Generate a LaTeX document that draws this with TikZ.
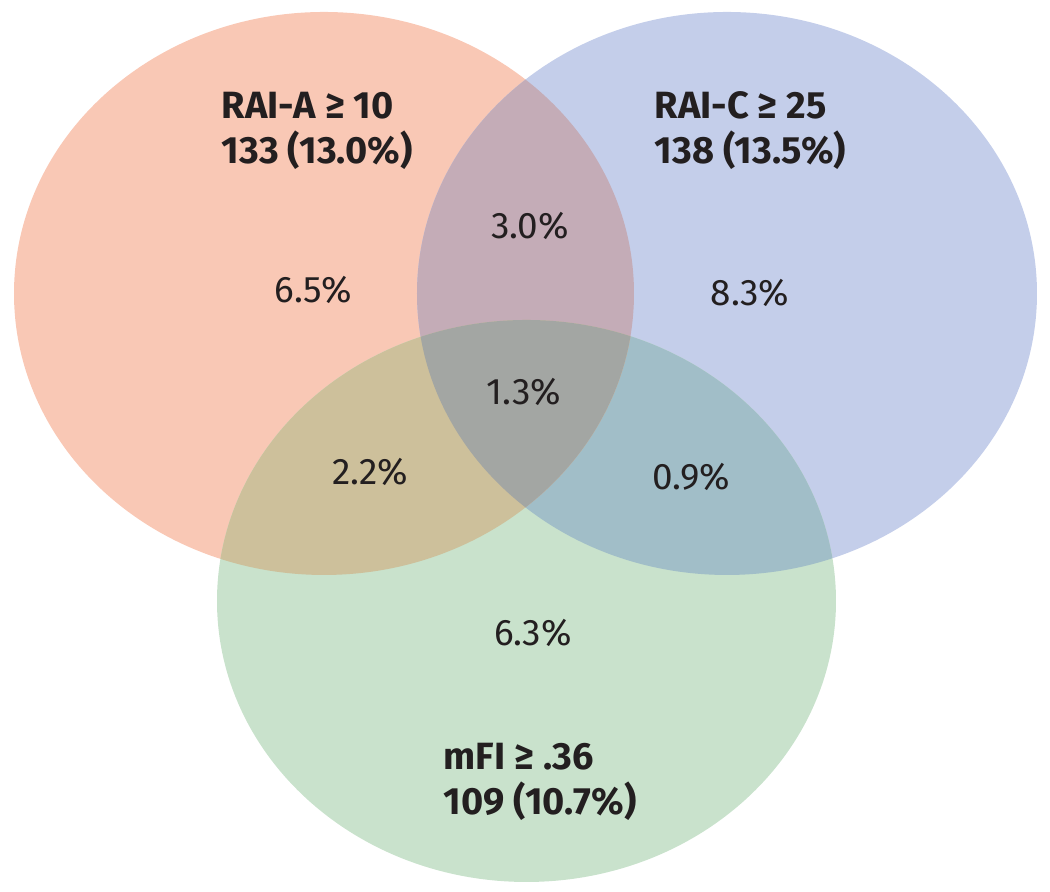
\documentclass[tikz,border=0pt]{standalone}
\usepackage{fontspec}
\setmainfont{Fira Sans}
\usetikzlibrary{positioning}
\definecolor{vnorange}{RGB}{249,200,181}
\definecolor{vnblue}{RGB}{196,206,234}
\definecolor{vngreen}{RGB}{201,226,204}
\definecolor{vnab}{RGB}{196,172,183}
\definecolor{vnag}{RGB}{205,192,155}
\definecolor{vnbg}{RGB}{161,190,200}
\definecolor{vnabg}{RGB}{163,166,163}
\definecolor{vntext}{RGB}{35,31,32}
\def\ellA{(324,598.5) ellipse [x radius=310,y radius=281.5]}
\def\ellB{(727,598.5) ellipse [x radius=310,y radius=281.5]}
\def\ellC{(526.5,291) ellipse [x radius=309.5,y radius=281]}

\begin{document}
\begin{tikzpicture}[x=.01cm,y=.01cm,text=vntext,inner sep=0pt,
  setlabel/.style={anchor=north west,align=left,font=\fontsize{10.8}{12.8}\selectfont\bfseries},
  pct/.style={font=\fontsize{10.5}{12.5}\selectfont}]
        \useasboundingbox (0,0) rectangle (1050,892);
        \fill[vnorange] \ellA; \fill[vnblue] \ellB; \fill[vngreen] \ellC;
        \begin{scope} \clip \ellB; \fill[vnbg] \ellC; \end{scope}
        \begin{scope} \clip \ellA; \fill[vnab] \ellB; \fill[vnag] \ellC;
          \clip \ellB; \fill[vnabg] \ellC; \end{scope}
        \node[setlabel] (rai-a) at (221,800.8) {RAI-A ≥ 10\\133 (13.0\%)};
        \node[setlabel] (rai-c) at (654,800.8) {RAI-C ≥ 25\\138 (13.5\%)};
        \node[setlabel] (mfi) at (443,149.8) {mFI ≥ .36\\109 (10.7\%)};
        \node[pct] (only-a) at (313,602) {6.5\%};
        \node[pct] (ab) at (530,666) {3.0\%};
        \node[pct] (only-c) at (750,599) {8.3\%};
        \node[pct] (abc) at (524,500.5) {1.3\%};
        \node[pct] (ag) at (370,420) {2.2\%};
        \node[pct] (bg) at (691,415) {0.9\%};
        \node[pct] (only-g) at (533,259) {6.3\%};
      \end{tikzpicture}
\end{document}
